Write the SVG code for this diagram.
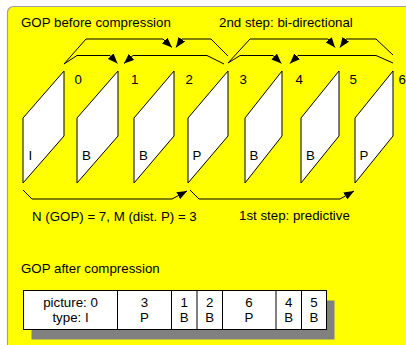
<svg xmlns="http://www.w3.org/2000/svg" width="406" height="345" viewBox="0 0 406 345">
  <defs>
    <marker id="head" viewBox="0 0 10 8" refX="10" refY="4" markerWidth="10" markerHeight="8" markerUnits="userSpaceOnUse" orient="auto">
      <path d="M0,0 L10,4 L0,8 Z" fill="#000"/>
    </marker>
    <style>
      text { font-family: "Liberation Sans", Arial, sans-serif; font-size: 13.3px; fill: #000; }
      .frame { fill: #fff; stroke: #000; stroke-width: 1; }
      .conn { fill: none; stroke: #000; stroke-width: 1; marker-end: url(#head); }
      .cell { fill: #fff; stroke: #000; stroke-width: 1; }
      .mid { text-anchor: middle; }
    </style>
  </defs>

  <!-- panel -->
  <rect x="0" y="0" width="406" height="345" fill="#fff"/>
  <rect x="7.5" y="6.5" width="420" height="360" rx="6" fill="#ffff00" stroke="#a0a0a0" stroke-width="1.2"/>

  <text x="21" y="26.5">GOP before compression</text>
  <text x="219" y="26.5">2nd step: bi-directional</text>

  <!-- pictures of the GOP -->
  <g id="frame0">
    <polygon class="frame" points="64,71 64,136 23,183 23,118"/>
    <text x="28.5" y="160">I</text>
    <text x="74.5" y="83.5">0</text>
  </g>
  <g id="frame1">
    <polygon class="frame" points="118,71 118,136 77,183 77,118"/>
    <text x="82" y="160">B</text>
    <text x="131" y="83.5">1</text>
  </g>
  <g id="frame2">
    <polygon class="frame" points="174,71 174,136 134,183 134,118"/>
    <text x="139" y="160">B</text>
    <text x="185.5" y="83.5">2</text>
  </g>
  <g id="frame3">
    <polygon class="frame" points="228,71 228,136 188,183 188,118"/>
    <text x="192.5" y="160">P</text>
    <text x="239.5" y="83.5">3</text>
  </g>
  <g id="frame4">
    <polygon class="frame" points="282,71 282,136 245,183 245,118"/>
    <text x="249.5" y="160">B</text>
    <text x="295.5" y="83.5">4</text>
  </g>
  <g id="frame5">
    <polygon class="frame" points="339,71 339,136 301,183 301,118"/>
    <text x="306" y="160">B</text>
    <text x="349.5" y="83.5">5</text>
  </g>
  <g id="frame6">
    <polygon class="frame" points="393,71 393,136 355,183 355,118"/>
    <text x="359.5" y="160">P</text>
    <text x="398.5" y="83.5">6</text>
  </g>

  <!-- prediction connectors -->
  <g id="connectors">
    <path class="conn" d="M64,64 L77,55.5 L110,55.5 L117.5,63.5"/>
    <path class="conn" d="M64,64 L86,39 L163,39 L172,47.5"/>
    <path class="conn" d="M224,64 L207,55.5 L133,55.5 L124,63.5"/>
    <path class="conn" d="M228,56 L211,39 L182,39 L176,47.5"/>
    <path class="conn" d="M228,63 L250,39 L328,39 L335,47.5"/>
    <path class="conn" d="M228,63 L240,55.5 L273,55.5 L281.5,63.5"/>
    <path class="conn" d="M393,63 L376,55.5 L298,55.5 L290,63.5"/>
    <path class="conn" d="M393,55 L376,39 L346,39 L340,47.5"/>
    <path class="conn" d="M23,190 L32,199 L172,199 L187,191"/>
    <path class="conn" d="M190,190 L199,199 L340,199 L354,191"/>
  </g>

  <text x="32" y="221">N (GOP) = 7, M (dist. P) = 3</text>
  <text x="239" y="220">1st step: predictive</text>

  <text x="21" y="273">GOP after compression</text>

  <!-- transmitted order -->
  <g id="order">
    <rect x="31.5" y="300.5" width="303" height="39" fill="#808080"/>
    <rect class="cell" x="23.5" y="290.5" width="303" height="39"/>
    <path d="M117.5,290.5 V329.5 M171.5,290.5 V329.5 M197,290.5 V329.5 M222.5,290.5 V329.5 M276,290.5 V329.5 M301.5,290.5 V329.5" stroke="#000" stroke-width="1"/>
    <text class="mid" x="70.5" y="306.5">picture: 0</text>
    <text class="mid" x="70.5" y="322">type: I</text>
    <text class="mid" x="144.5" y="306.5">3</text>
    <text class="mid" x="144.5" y="322">P</text>
    <text class="mid" x="184.3" y="306.5">1</text>
    <text class="mid" x="184.3" y="322">B</text>
    <text class="mid" x="209.7" y="306.5">2</text>
    <text class="mid" x="209.7" y="322">B</text>
    <text class="mid" x="249" y="306.5">6</text>
    <text class="mid" x="249" y="322">P</text>
    <text class="mid" x="288.7" y="306.5">4</text>
    <text class="mid" x="288.7" y="322">B</text>
    <text class="mid" x="314" y="306.5">5</text>
    <text class="mid" x="314" y="322">B</text>
  </g>
</svg>
